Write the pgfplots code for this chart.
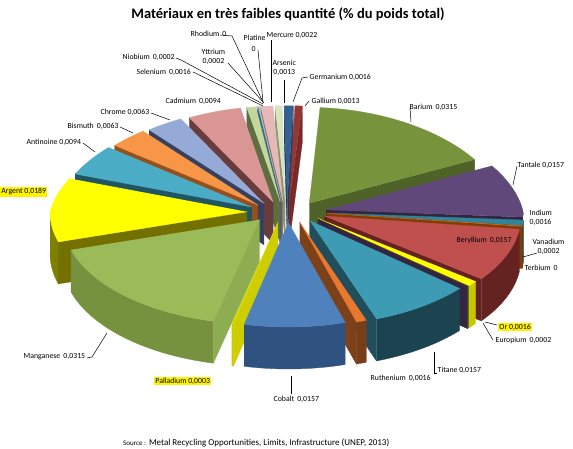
\documentclass[border=0pt]{standalone}
\usepackage{pgfplots}
\pgfplotsset{compat=1.18}
\usepackage{fontspec}
\setmainfont{Carlito}
\newcommand\lbl{\fontsize{7.8}{8.8}\selectfont}

% layout of the 3-D pie (pixels of the picture)
\def\cx{287}\def\cy{212}\def\R{197}\def\dd{40}\def\dq{0.5}\def\kk{0.53}\def\hh{42}
\def\pp{0.0006}\def\qq{0.00035}\def\rot{-2}
\def\total{0.19}

\def\cum{0}
\newcount\slicen
% name, value, top colour, side colour, radial-wall colour
\newcommand\defslice[5]{%
  \global\advance\slicen by 1
  \pgfmathsetmacro\aone{90+\rot-360*\cum/\total}%
  \pgfmathsetmacro\newcum{\cum+#2}%
  \pgfmathsetmacro\atwo{90+\rot-360*\newcum/\total}%
  \xdef\cum{\newcum}%
  \expandafter\xdef\csname sA\the\slicen\endcsname{\aone}%
  \expandafter\xdef\csname sB\the\slicen\endcsname{\atwo}%
  \expandafter\xdef\csname sV\the\slicen\endcsname{#2}%
  \definecolor{top\the\slicen}{RGB}{#3}%
  \definecolor{side\the\slicen}{RGB}{#4}%
  \definecolor{rad\the\slicen}{RGB}{#5}%
}

\defslice{Gallium}{0.0013}{149,55,53}{99,37,35}{120,42,40}
\defslice{Barium}{0.0315}{119,147,60}{80,98,40}{79,98,40}
\defslice{Tantale}{0.0157}{96,73,122}{50,38,64}{50,38,64}
\defslice{Indium}{0.0016}{49,133,155}{26,70,82}{26,70,82}
\defslice{Vanadium}{0.0002}{228,108,10}{130,60,5}{130,60,5}
\defslice{Terbium}{0}{128,100,162}{80,60,100}{80,60,100}
\defslice{Beryllium}{0.0157}{192,80,77}{100,35,33}{100,35,33}
\defslice{Or}{0.0016}{255,255,0}{200,200,0}{200,200,0}
\defslice{Europium}{0.0002}{64,49,82}{50,38,64}{50,38,64}
\defslice{Titane}{0.0157}{62,155,180}{28,68,80}{32,78,92}
\defslice{Ruthenium}{0.0016}{232,120,45}{120,62,25}{125,65,25}
\defslice{Cobalt}{0.0157}{79,129,189}{48,82,128}{48,82,128}
\defslice{Palladium}{0.0003}{215,215,0}{200,200,0}{205,205,0}
\defslice{Manganese}{0.0315}{155,187,89}{118,146,62}{142,172,80}
\defslice{Argent}{0.0189}{255,255,0}{128,128,0}{115,112,0}
\defslice{Antinoine}{0.0094}{75,172,198}{32,85,100}{32,85,100}
\defslice{Bismuth}{0.0063}{247,150,70}{150,80,30}{150,80,30}
\defslice{Chrome}{0.0063}{149,170,215}{55,65,95}{55,65,95}
\defslice{Cadmium}{0.0094}{217,150,148}{105,60,60}{105,60,60}
\defslice{Selenium}{0.0016}{195,214,155}{95,110,65}{95,110,65}
\defslice{Niobium}{0.0002}{179,162,199}{90,80,100}{90,80,100}
\defslice{Yttrium}{0.0002}{147,205,221}{70,100,110}{70,100,110}
\defslice{Rhodium}{0}{200,200,200}{100,100,100}{100,100,100}
\defslice{Platine}{0}{200,200,200}{100,100,100}{100,100,100}
\defslice{Mercure}{0.0022}{230,185,184}{150,110,110}{150,110,110}
\defslice{Arsenic}{0.0013}{215,228,189}{140,150,115}{140,150,115}
\defslice{Germanium}{0.0016}{55,96,146}{35,60,95}{35,60,95}

% projection of a point (X right, Y back, depth down) to picture pixels
\newcommand\proj[3]{%
  \pgfmathsetmacro\sxv{1-\pp*max(#2,0)}%
  \pgfmathsetmacro\syv{1-\qq*max(#2,0)}%
  \pgfmathsetmacro\xs{\cx+(#1)*\sxv}%
  \pgfmathsetmacro\ys{\cy-\kk*(#2)*\syv+(#3)*\sxv}%
}
\newcommand\addpt{\xdef\pts{\pts(\xs,\ys)}}
\newcommand\addarc[3]{% from, to, depth
  \pgfmathtruncatemacro\nseg{max(1,ceil(abs(#2-#1)/2))}%
  \foreach \j in {0,...,\nseg}{%
    \pgfmathsetmacro\ang{#1+(#2-#1)*\j/\nseg}%
    \pgfmathsetmacro\PX{\ox+\R*cos(\ang)}%
    \pgfmathsetmacro\PY{\oy+\R*sin(\ang)}%
    \proj{\PX}{\PY}{#3}\addpt
  }%
}
\def\drawcmds{}
\newcommand\appendplot[1]{% colour
  \xdef\drawcmds{\unexpanded\expandafter{\drawcmds}\noexpand\addplot[fill=#1,draw=#1,line width=0.3pt] coordinates {\pts};}%
}
\newcommand\radwall[1]{% angle
  \gdef\pts{}%
  \proj{\ox}{\oy}{0}\addpt
  \pgfmathsetmacro\PX{\ox+\R*cos(#1)}\pgfmathsetmacro\PY{\oy+\R*sin(#1)}%
  \proj{\PX}{\PY}{0}\addpt
  \proj{\PX}{\PY}{\hh}\addpt
  \proj{\ox}{\oy}{\hh}\addpt
}
\newcommand\buildslice[1]{%
  \edef\aone{\csname sA#1\endcsname}\edef\atwo{\csname sB#1\endcsname}%
  \pgfmathsetmacro\midang{(\aone+\atwo)/2}%
  \pgfmathsetmacro\ox{\dd*cos(\midang)}%
  \pgfmathsetmacro\oy{\dq*\dd*sin(\midang)}%
  % outer wall (front half only)
  \pgfmathsetmacro\wlo{max(\atwo,-180)}%
  \pgfmathsetmacro\whi{min(\aone,0)}%
  \pgfmathtruncatemacro\flag{\whi>\wlo}%
  \ifnum\flag=1
    \gdef\pts{}\addarc{\wlo}{\whi}{0}\addarc{\whi}{\wlo}{\hh}%
    \appendplot{side#1}%
  \fi
  % radial walls facing the viewer
  \pgfmathtruncatemacro\flag{cos(\aone)<0}%
  \ifnum\flag=1 \radwall{\aone}\appendplot{rad#1}\fi
  \pgfmathtruncatemacro\flag{cos(\atwo)>0}%
  \ifnum\flag=1 \radwall{\atwo}\appendplot{rad#1}\fi
  % top face
  \gdef\pts{}\proj{\ox}{\oy}{0}\addpt\addarc{\aone}{\atwo}{0}%
  \appendplot{top#1}%
}
% back to front
\foreach \i in {27,26,1,25,21,22,20,19,2,18,17,16,3,15,4,5,7,8,9,14,10,11,13,12}{\buildslice{\i}}

\begin{document}
\begin{tikzpicture}
\begin{axis}[name=ax, width=573pt, height=449pt, scale only axis,
  xmin=0, xmax=573, ymin=0, ymax=449, y dir=reverse, hide axis, clip=false]
\drawcmds
% leader lines
\addplot[black, line width=0.5pt] coordinates {(220,35)(232,36)(263,102)};
\addplot[black, line width=0.5pt] coordinates {(258,50)(263,102)};
\addplot[black, line width=0.5pt] coordinates {(271,40)(271,102)};
\addplot[black, line width=0.5pt] coordinates {(228,63)(264,103)};
\addplot[black, line width=0.5pt] coordinates {(176,58)(181,60)(263,104)};
\addplot[black, line width=0.5pt] coordinates {(193,72)(263,106)};
\addplot[black, line width=0.5pt] coordinates {(284,80)(284,103)};
\addplot[black, line width=0.5pt] coordinates {(308,77)(302,78)(293,102)};
\addplot[black, line width=0.5pt] coordinates {(309,101)(305,106)};
\addplot[black, line width=0.5pt] coordinates {(151,113)(170,120)};
\addplot[black, line width=0.5pt] coordinates {(120,127)(133,133)};
\addplot[black, line width=0.5pt] coordinates {(83,143)(95,152)};
\addplot[black, line width=0.5pt] coordinates {(87,358)(92,357)(107,333)};
\addplot[black, line width=0.5pt] coordinates {(291,376)(291,394)};
\addplot[black, line width=0.5pt] coordinates {(437,373)(434,373)(434,352)};
\addplot[black, line width=0.5pt] coordinates {(497,325)(485,322)};
\addplot[black, line width=0.5pt] coordinates {(493,340)(483,323)};
\addplot[black, line width=0.5pt] coordinates {(537,253)(523,257)};
\addplot[black, line width=0.5pt] coordinates {(517,166)(513,185)};
\addplot[black, line width=0.5pt] coordinates {(410,108)(411,122)};
% labels
\tikzset{lb/.style={anchor=west, inner sep=0.5pt, font=\lbl}}
\node[lb] at (axis cs:190,34) {Rhodium\, 0};
\node[lb] at (axis cs:243,38) {Platine};
\node[lb] at (axis cs:251,49) {0};
\node[lb] at (axis cs:266,35) {Mercure 0,0022};
\node[lb, align=center] at (axis cs:201,57) {Yttrium\\0,0002};
\node[lb] at (axis cs:122,57) {Niobium\, 0,0002};
\node[lb] at (axis cs:136,72) {Selenium\, 0,0016};
\node[lb, align=center] at (axis cs:272,68) {Arsenic\\0,0013};
\node[lb] at (axis cs:309,77) {Germanium 0,0016};
\node[lb] at (axis cs:311,101) {Gallium 0,0013};
\node[lb] at (axis cs:165,101) {Cadmium\, 0,0094};
\node[lb] at (axis cs:100,112) {Chrome 0,0063};
\node[lb] at (axis cs:67,126) {Bismuth\, 0,0063};
\node[lb] at (axis cs:26,142) {Antinoine 0,0094};
\node[lb, fill=yellow, inner sep=1.2pt] at (axis cs:0,192) {Argent 0,0189};
\node[lb] at (axis cs:23,357) {Manganese\, 0,0315};
\node[lb, fill=yellow, inner sep=1.2pt] at (axis cs:154,381) {Palladium 0,0003};
\node[lb] at (axis cs:273,399) {Cobalt\, 0,0157};
\node[lb] at (axis cs:370,378) {Ruthenium\, 0,0016};
\node[lb] at (axis cs:437,370) {Titane 0,0157};
\node[lb] at (axis cs:495,340) {Europium\, 0,0002};
\node[lb, fill=yellow, inner sep=1.2pt] at (axis cs:498,327) {Or 0,0016};
\node[lb] at (axis cs:524,268) {Terbium\, 0};
\node[lb, align=center] at (axis cs:532,247) {Vanadium\\0,0002};
\node[lb] at (axis cs:456,240) {Beryllium\, 0,0157};
\node[lb, align=left] at (axis cs:529,218) {Indium\\0,0016};
\node[lb] at (axis cs:517,165) {Tantale 0,0157};
\node[lb] at (axis cs:409,107) {Barium\, 0,0315};
\node[font=\fontsize{14.5}{16}\selectfont\bfseries, inner sep=0pt] at (axis cs:288,14) {Matériaux en très faibles quantité (\% du poids total)};
\node[anchor=west, inner sep=0pt] at (axis cs:123,443) {{\fontsize{7}{8}\selectfont Source :} {\fontsize{9}{10}\selectfont Metal Recycling Opportunities, Limits, Infrastructure (UNEP, 2013)}};
\end{axis}
\pgfresetboundingbox
\path[use as bounding box] (ax.south west) rectangle (ax.north east);
\end{tikzpicture}
\end{document}
